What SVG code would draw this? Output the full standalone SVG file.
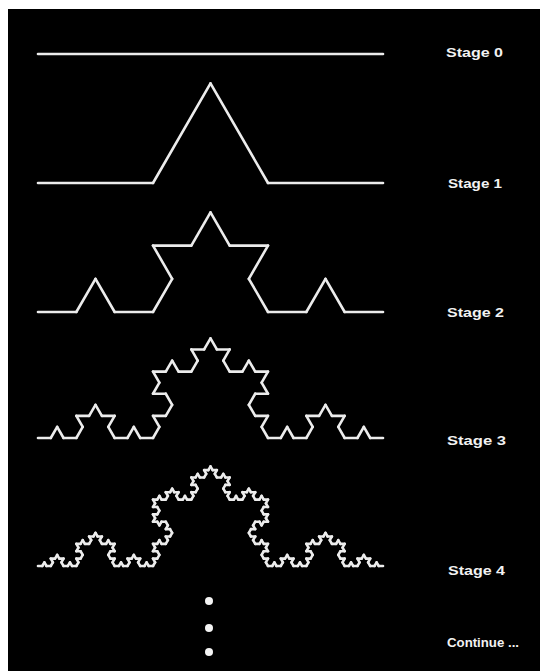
<svg xmlns="http://www.w3.org/2000/svg" xmlns:xlink="http://www.w3.org/1999/xlink" width="540" height="671" viewBox="0 0 540 671">
<style>
.seg{stroke:#ececec;stroke-width:2.6;stroke-linecap:round;fill:none;vector-effect:non-scaling-stroke}
.lbl{fill:#f2f2f2;font-family:"Liberation Sans",Arial,sans-serif;font-size:13px;font-weight:bold}
.dot{fill:#f4f4f4}
</style>
<defs>
<g id="k0"><line class="seg" x1="0" y1="0" x2="345" y2="0"/></g>
<g id="k1">
<use xlink:href="#k0" href="#k0" transform="scale(0.333333)"/>
<use xlink:href="#k0" href="#k0" transform="translate(115,0) rotate(-60) scale(0.333333)"/>
<use xlink:href="#k0" href="#k0" transform="translate(172.5,-99.593) rotate(60) scale(0.333333)"/>
<use xlink:href="#k0" href="#k0" transform="translate(230,0) scale(0.333333)"/>
</g>
<g id="k2">
<use xlink:href="#k1" href="#k1" transform="scale(0.333333)"/>
<use xlink:href="#k1" href="#k1" transform="translate(115,0) rotate(-60) scale(0.333333)"/>
<use xlink:href="#k1" href="#k1" transform="translate(172.5,-99.593) rotate(60) scale(0.333333)"/>
<use xlink:href="#k1" href="#k1" transform="translate(230,0) scale(0.333333)"/>
</g>
<g id="k3">
<use xlink:href="#k2" href="#k2" transform="scale(0.333333)"/>
<use xlink:href="#k2" href="#k2" transform="translate(115,0) rotate(-60) scale(0.333333)"/>
<use xlink:href="#k2" href="#k2" transform="translate(172.5,-99.593) rotate(60) scale(0.333333)"/>
<use xlink:href="#k2" href="#k2" transform="translate(230,0) scale(0.333333)"/>
</g>
<g id="k4">
<use xlink:href="#k3" href="#k3" transform="scale(0.333333)"/>
<use xlink:href="#k3" href="#k3" transform="translate(115,0) rotate(-60) scale(0.333333)"/>
<use xlink:href="#k3" href="#k3" transform="translate(172.5,-99.593) rotate(60) scale(0.333333)"/>
<use xlink:href="#k3" href="#k3" transform="translate(230,0) scale(0.333333)"/>
</g>
</defs>
<rect x="0" y="0" width="540" height="671" fill="#ffffff"/>
<rect x="8" y="9" width="532" height="662" fill="#000000"/>
<g id="stage0"><use xlink:href="#k0" href="#k0" transform="translate(38,54)"/><text class="lbl" x="446" y="57" textLength="57" lengthAdjust="spacingAndGlyphs">Stage 0</text></g>
<g id="stage1"><use xlink:href="#k1" href="#k1" transform="translate(38,183)"/><text class="lbl" x="448" y="188" textLength="54" lengthAdjust="spacingAndGlyphs">Stage 1</text></g>
<g id="stage2"><use xlink:href="#k2" href="#k2" transform="translate(38,312)"/><text class="lbl" x="447" y="317" textLength="57" lengthAdjust="spacingAndGlyphs">Stage 2</text></g>
<g id="stage3"><use xlink:href="#k3" href="#k3" transform="translate(38,438)"/><text class="lbl" x="447" y="445" textLength="59" lengthAdjust="spacingAndGlyphs">Stage 3</text></g>
<g id="stage4"><use xlink:href="#k4" href="#k4" transform="translate(38,566)"/><text class="lbl" x="448" y="575" textLength="57" lengthAdjust="spacingAndGlyphs">Stage 4</text></g>
<g id="continue">
<circle class="dot" cx="209" cy="601" r="4"/>
<circle class="dot" cx="209" cy="628" r="4"/>
<circle class="dot" cx="209" cy="652" r="4"/>
<text class="lbl" x="447" y="647" textLength="72" lengthAdjust="spacingAndGlyphs">Continue ...</text>
</g>
</svg>
